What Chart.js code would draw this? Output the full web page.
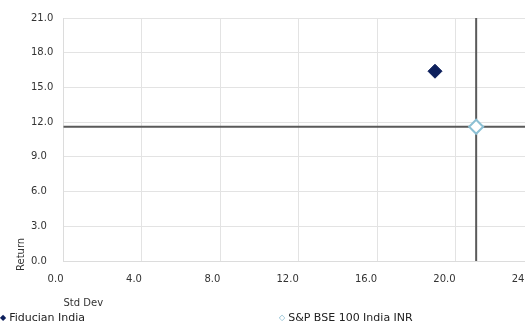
<!DOCTYPE html>
<html>
<head>
<meta charset="utf-8">
<script src="https://cdn.jsdelivr.net/npm/chart.js@4/dist/chart.umd.min.js"></script>
<style>
  html, body { margin: 0; padding: 0; width: 525px; height: 325px; overflow: hidden; background: #fff; }
  #chart { position: absolute; left: 0; top: 0; }
  .legend { position: absolute; top: 311px; font: 11px "DejaVu Sans", sans-serif; color: #222; white-space: nowrap; }
  .legend span { font-size: 8px; margin-right: 3px; position: relative; top: -1px; }
</style>
</head>
<body>
<canvas id="chart" width="543" height="313"></canvas>
<div class="legend" style="left:0px"><span style="color:#0d1f5c">◆</span>Fiducian India</div>
<div class="legend" style="left:279px"><span style="color:#7fb6cc">◇</span>S&amp;P BSE 100 India INR</div>
<script>
(function () {
    var seriesNames = ['Fiducian India', 'S&P BSE 100 India INR'];
    var stdDev = [18.95, 21.05];
    var returns = [16.4, 11.6];
    var xTicks = [0, 4, 8, 12, 16, 20, 24];
    var yTicks = [0, 3, 6, 9, 12, 15, 18, 21];

    // crosshair through the benchmark point + rotated y title
    var benchLines = {
        id: 'benchLines',
        beforeDatasetsDraw: function (chart) {
            var ctx = chart.ctx, x = chart.scales.x, y = chart.scales.y, area = chart.chartArea;
            var px = x.getPixelForValue(stdDev[1]), py = y.getPixelForValue(returns[1]);
            ctx.save();
            ctx.strokeStyle = '#5a5a5a';
            ctx.lineWidth = 2;
            ctx.beginPath();
            ctx.moveTo(area.left, py);
            ctx.lineTo(area.right, py);
            ctx.moveTo(px, area.top);
            ctx.lineTo(px, area.bottom);
            ctx.stroke();
            ctx.restore();
        },
        afterDraw: function (chart) {
            var ctx = chart.ctx;
            ctx.save();
            ctx.translate(21, 271);
            ctx.rotate(-Math.PI / 2);
            ctx.font = '10px "DejaVu Sans"';
            ctx.fillStyle = '#333';
            ctx.textAlign = 'left';
            ctx.textBaseline = 'middle';
            ctx.fillText('Return', 0, 0);
            ctx.restore();
        }
    };

    var ctx = document.getElementById('chart').getContext('2d');
    new Chart(ctx, {
        type: 'scatter',
        data: {
            datasets: [{
                label: seriesNames[0],
                data: [{ x: stdDev[0], y: returns[0] }],
                pointStyle: 'rectRot',
                pointRadius: 7,
                backgroundColor: '#0d1f5c',
                borderColor: '#0d1f5c',
                borderWidth: 1
            }, {
                label: seriesNames[1],
                data: [{ x: stdDev[1], y: returns[1] }],
                pointStyle: 'rectRot',
                pointRadius: 7,
                backgroundColor: '#ffffff',
                borderColor: '#8cc0d4',
                borderWidth: 2
            }]
        },
        options: {
            responsive: false,
            animation: false,
            layout: { padding: { top: 18, left: 31, right: 1, bottom: 0 } },
            plugins: { legend: { display: false }, tooltip: { enabled: false } },
            scales: {
                x: {
                    type: 'linear', min: 0, max: 24,
                    afterBuildTicks: function (s) { s.ticks = xTicks.map(function (v) { return { value: v }; }); },
                    afterFit: function (s) { s.paddingLeft = 0; s.paddingRight = 0; },
                    grid: { color: '#e3e3e3', lineWidth: 1, drawTicks: false },
                    border: { color: '#dcdcdc' },
                    ticks: { padding: 12, align: 'end', color: '#333', font: { family: 'DejaVu Sans', size: 10 },
                        callback: function (v) { return v.toFixed(1); } },
                    title: { display: true, text: 'Std Dev', align: 'start', color: '#333',
                        font: { family: 'DejaVu Sans', size: 10 }, padding: { top: 0 } }
                },
                y: {
                    type: 'linear', min: 0, max: 21,
                    afterBuildTicks: function (s) { s.ticks = yTicks.map(function (v) { return { value: v }; }); },
                    afterFit: function (s) { s.width = 32.5; },
                    grid: { color: '#e3e3e3', lineWidth: 1, drawTicks: false },
                    border: { color: '#dcdcdc' },
                    ticks: { padding: 10, crossAlign: 'far', color: '#333', font: { family: 'DejaVu Sans', size: 10 },
                        callback: function (v) { return v.toFixed(1); } }
                }
            }
        },
        plugins: [benchLines]
    });
})();
</script>
</body>
</html>
